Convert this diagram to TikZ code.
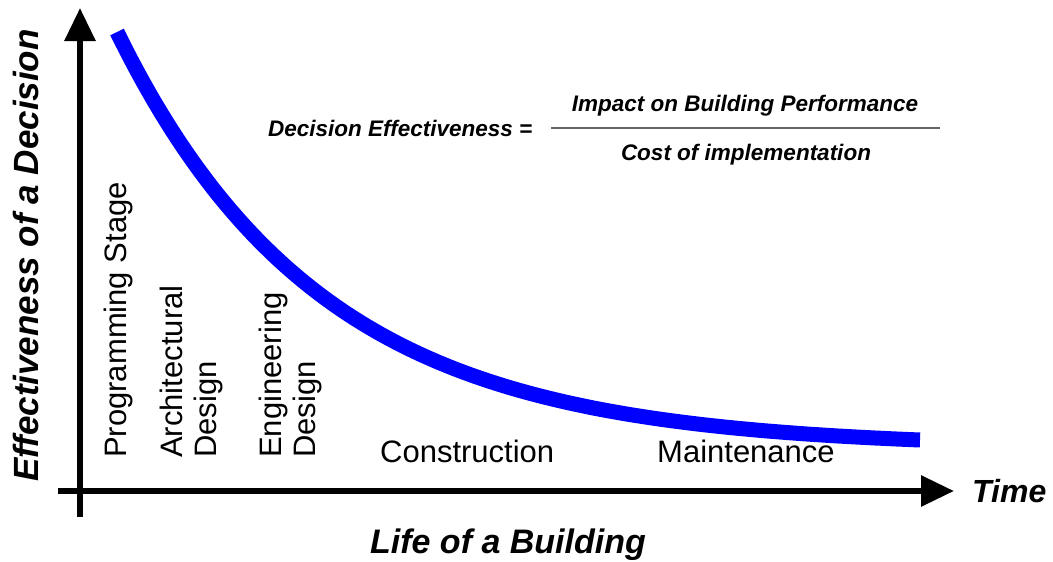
\documentclass[tikz,border=0pt]{standalone}
\usepackage{fontspec}
\setmainfont{Liberation Sans}
\usetikzlibrary{arrows.meta}
\begin{document}
\begin{tikzpicture}[x=1pt,y=-1pt,
  axis/.style={line width=6pt, -{Triangle[length=33pt,width=30pt]}},
  lbl/.style={inner sep=0pt, font=\fontsize{31}{36}\selectfont},
  ttl/.style={inner sep=0pt, font=\fontsize{35}{40}\selectfont\bfseries\itshape},
  frac/.style={inner sep=0pt, font=\fontsize{22.5}{26}\selectfont\bfseries\itshape}]
\useasboundingbox (0,0) rectangle (1053,562);
\coordinate (yb) at (80,517);
\coordinate (yt) at (80,8);
\coordinate (xl) at (58,491);
\coordinate (xr) at (954,491);
\draw[axis] (yb) -- (yt);
\draw[axis] (xl) -- (xr);
\draw[blue, line width=15pt] plot[domain=117:920, samples=120, smooth] (\x, {448-416*exp(-0.00492*(\x-117))});
\node[ttl, font=\fontsize{32}{36}\selectfont\bfseries\itshape, anchor=base west] (time) at (972,502) {Time};
\node[ttl, rotate=90, anchor=base west] (ylab) at (38,482) {Effectiveness of a Decision};
\node[ttl, font=\fontsize{34}{40}\selectfont\bfseries\itshape, anchor=base] (xlab) at (508,553) {Life of a Building};
\node[lbl, rotate=90, anchor=base west] (prog) at (126,458) {Programming Stage};
\node[lbl, rotate=90, anchor=base west] (arch1) at (182,458) {Architectural};
\node[lbl, rotate=90, anchor=base west] (arch2) at (216,458) {Design};
\node[lbl, rotate=90, anchor=base west] (eng1) at (281,458) {Engineering};
\node[lbl, rotate=90, anchor=base west] (eng2) at (315,458) {Design};
\node[lbl, anchor=base west] (cons) at (380,462) {Construction};
\node[lbl, anchor=base west] (maint) at (657,462) {Maintenance};
\node[frac, anchor=base west] (de) at (268,136) {Decision Effectiveness =};
\node[frac, anchor=base] (num) at (745,111) {Impact on Building Performance};
\node[frac, anchor=base] (den) at (746,160) {Cost of implementation};
\coordinate (fl) at (551,128);
\coordinate (fr) at (940,128);
\draw[black!60, line width=1.2pt] (fl) -- (fr);
\end{tikzpicture}
\end{document}
